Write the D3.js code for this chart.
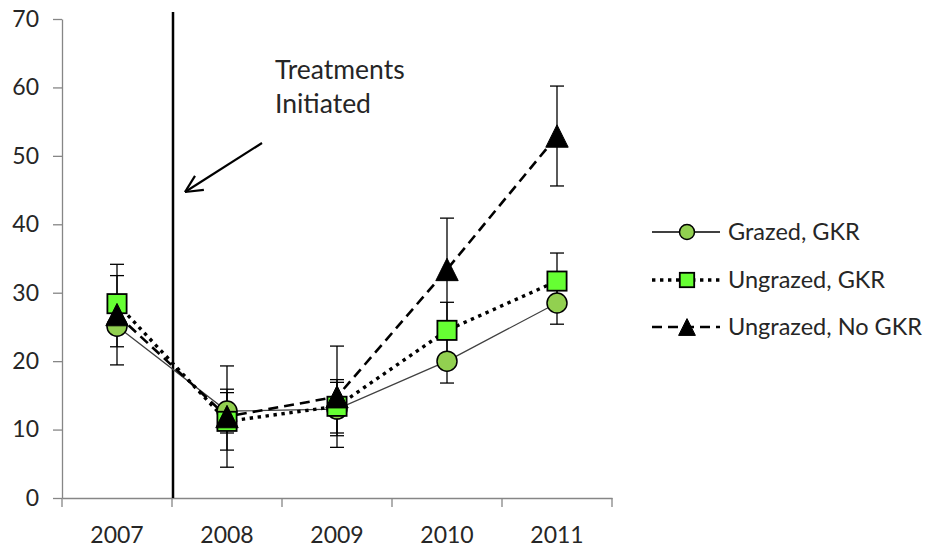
<!DOCTYPE html>
<html>
<head>
<meta charset="utf-8">
<script src="https://cdn.jsdelivr.net/npm/d3@7"></script>
<style>
  body { margin: 0; background: #fff; }
  text { font-family: Lato, "Open Sans", sans-serif; fill: #262626; }
</style>
</head>
<body>
<script>
// Dados do gráfico
const anos = ["2007", "2008", "2009", "2010", "2011"];
const series = ["Grazed, GKR", "Ungrazed, GKR", "Ungrazed, No GKR"];
const grazedGKR = [25.1, 12.7, 13.0, 20.0, 28.5];
const grazedGKRErro = [3.0, 3.2, 3.9, 3.2, 3.1];
const ungrazedGKR = [28.4, 11.2, 13.4, 24.5, 31.7];
const ungrazedGKRErro = [4.1, 4.2, 3.9, 4.1, 4.1];
const ungrazedNoGKR = [26.8, 11.9, 14.8, 33.4, 52.9];
const ungrazedNoGKRErro = [7.35, 7.4, 7.4, 7.5, 7.3];
const yTicks = [0, 10, 20, 30, 40, 50, 60, 70];
const anotacao = ["Treatments", "Initiated"];

const margin = { top: 19, right: 318, bottom: 49, left: 62 },
    width = 930 - margin.left - margin.right,
    height = 547 - margin.top - margin.bottom;

const svg = d3.select("body")
    .append("svg")
    .attr("width", 930)
    .attr("height", 547);

const g = svg.append("g")
    .attr("transform", `translate(${margin.left},${margin.top})`);

const x = d3.scaleBand()
    .domain(anos)
    .range([0, width])
    .padding(0);

const y = d3.scaleLinear()
    .domain([0, 70])
    .range([height, 0]);

const cx = d => x(d) + x.bandwidth() / 2;

// Eixo Y
const eixoY = g.append("g")
    .call(d3.axisLeft(y).tickValues(yTicks).tickSize(9).tickSizeOuter(0).tickPadding(14));
eixoY.select(".domain").attr("stroke", "#868686").attr("stroke-width", 1.3);
eixoY.selectAll(".tick line").attr("stroke", "#868686").attr("stroke-width", 1.3);
eixoY.selectAll("text").style("font-size", "23px").attr("fill", "#262626");

// Eixo X (marcas entre as categorias)
const eixoX = g.append("g")
    .attr("transform", `translate(0,${height})`)
    .call(d3.axisBottom(x).tickSize(0).tickSizeOuter(0).tickPadding(29));
eixoX.select(".domain").attr("stroke", "#868686").attr("stroke-width", 1.3);
eixoX.selectAll("text").style("font-size", "23px").attr("fill", "#262626");

const limites = anos.map(d => x(d)).concat([x.range()[1]]);
eixoX.selectAll(".limite")
    .data(limites)
    .enter()
    .append("line")
    .attr("class", "limite")
    .attr("x1", d => d)
    .attr("x2", d => d)
    .attr("y1", 0)
    .attr("y2", 9)
    .attr("stroke", "#868686")
    .attr("stroke-width", 1.3);

// Linha vertical de início dos tratamentos
const xTrat = x("2008") + 1;
g.append("line")
    .attr("x1", xTrat)
    .attr("x2", xTrat)
    .attr("y1", -7)
    .attr("y2", height)
    .attr("stroke", "#000")
    .attr("stroke-width", 2.5);

// Seta e texto da anotação
const seta = { x1: 262 - margin.left, y1: 143 - margin.top, x2: 185 - margin.left, y2: 192 - margin.top };
g.append("line")
    .attr("x1", seta.x1).attr("y1", seta.y1)
    .attr("x2", seta.x2).attr("y2", seta.y2)
    .attr("stroke", "#000")
    .attr("stroke-width", 2.2);
const ang = Math.atan2(seta.y1 - seta.y2, seta.x1 - seta.x2);
[-0.45, 0.45].forEach(function(da) {
    g.append("line")
        .attr("x1", seta.x2).attr("y1", seta.y2)
        .attr("x2", seta.x2 + 19 * Math.cos(ang + da))
        .attr("y2", seta.y2 + 19 * Math.sin(ang + da))
        .attr("stroke", "#000")
        .attr("stroke-width", 2.2);
});

g.append("text")
    .attr("x", 275 - margin.left)
    .attr("y", 79 - margin.top)
    .style("font-size", "26.5px")
    .selectAll("tspan")
    .data(anotacao)
    .enter()
    .append("tspan")
    .attr("x", 275 - margin.left)
    .attr("dy", (d, i) => i === 0 ? 0 : 34)
    .text(d => d);

// Séries
const dados = [
    { nome: series[0], valores: grazedGKR, erros: grazedGKRErro, simbolo: "circle", fill: "#92D050",
      stroke: "#404040", width: 1.3, dash: null, cap: "butt" },
    { nome: series[1], valores: ungrazedGKR, erros: ungrazedGKRErro, simbolo: "square", fill: "#66FF33",
      stroke: "#000", width: 3.4, dash: "3.4,4.6", cap: "butt" },
    { nome: series[2], valores: ungrazedNoGKR, erros: ungrazedNoGKRErro, simbolo: "triangle", fill: "#000",
      stroke: "#000", width: 2.6, dash: "10,6", cap: "butt" }
];

const linha = d3.line()
    .x((d, i) => cx(anos[i]))
    .y(d => y(d));

dados.forEach(function(s) {
    g.append("path")
        .datum(s.valores)
        .attr("d", linha)
        .attr("fill", "none")
        .attr("stroke", s.stroke)
        .attr("stroke-width", s.width)
        .attr("stroke-dasharray", s.dash)
        .attr("stroke-linecap", s.cap);
});

// Barras de erro
dados.forEach(function(s) {
    const eb = g.append("g");
    s.valores.forEach(function(v, i) {
        const xc = cx(anos[i]);
        const e = s.erros[i];
        eb.append("line")
            .attr("x1", xc).attr("x2", xc)
            .attr("y1", y(v + e)).attr("y2", y(v - e))
            .attr("stroke", "#000").attr("stroke-width", 1.3);
        [v + e, v - e].forEach(function(c) {
            eb.append("line")
                .attr("x1", xc - 7).attr("x2", xc + 7)
                .attr("y1", y(c)).attr("y2", y(c))
                .attr("stroke", "#000").attr("stroke-width", 1.3);
        });
    });
});

// Marcadores
function desenhaMarcador(sel, tipo, fill, tam) {
    if (tipo === "circle") {
        sel.append("circle").attr("r", tam * 0.5)
            .attr("fill", fill).attr("stroke", "#000").attr("stroke-width", 1.5);
    } else if (tipo === "square") {
        sel.append("rect")
            .attr("x", -tam * 0.48).attr("y", -tam * 0.48)
            .attr("width", tam * 0.96).attr("height", tam * 0.96)
            .attr("fill", fill).attr("stroke", "#000").attr("stroke-width", 1.8);
    } else {
        const h = tam * 0.56;
        sel.append("path")
            .attr("d", `M0,${-h}L${h},${h}L${-h},${h}Z`)
            .attr("fill", fill).attr("stroke", "#000").attr("stroke-width", 1);
    }
}

dados.forEach(function(s) {
    s.valores.forEach(function(v, i) {
        const m = g.append("g")
            .attr("transform", `translate(${cx(anos[i])},${y(v)})`);
        desenhaMarcador(m, s.simbolo, s.fill, 20);
    });
});

// Legenda
const legenda = svg.append("g")
    .attr("class", "legend")
    .attr("transform", "translate(652,0)");

const linhasLegenda = [232, 280, 327];
dados.forEach(function(s, i) {
    const item = legenda.append("g")
        .attr("transform", `translate(0,${linhasLegenda[i]})`);
    item.append("line")
        .attr("x1", 0).attr("x2", 68)
        .attr("y1", 0).attr("y2", 0)
        .attr("stroke", i === 0 ? "#000" : s.stroke)
        .attr("stroke-width", i === 0 ? 1.5 : s.width)
        .attr("stroke-dasharray", s.dash);
    const m = item.append("g").attr("transform", "translate(35,0)");
    desenhaMarcador(m, s.simbolo, s.fill, 15);
    item.append("text")
        .attr("x", 76)
        .attr("dy", "0.35em")
        .style("font-size", "23.5px")
        .text(s.nome);
});
</script>
</body>
</html>
